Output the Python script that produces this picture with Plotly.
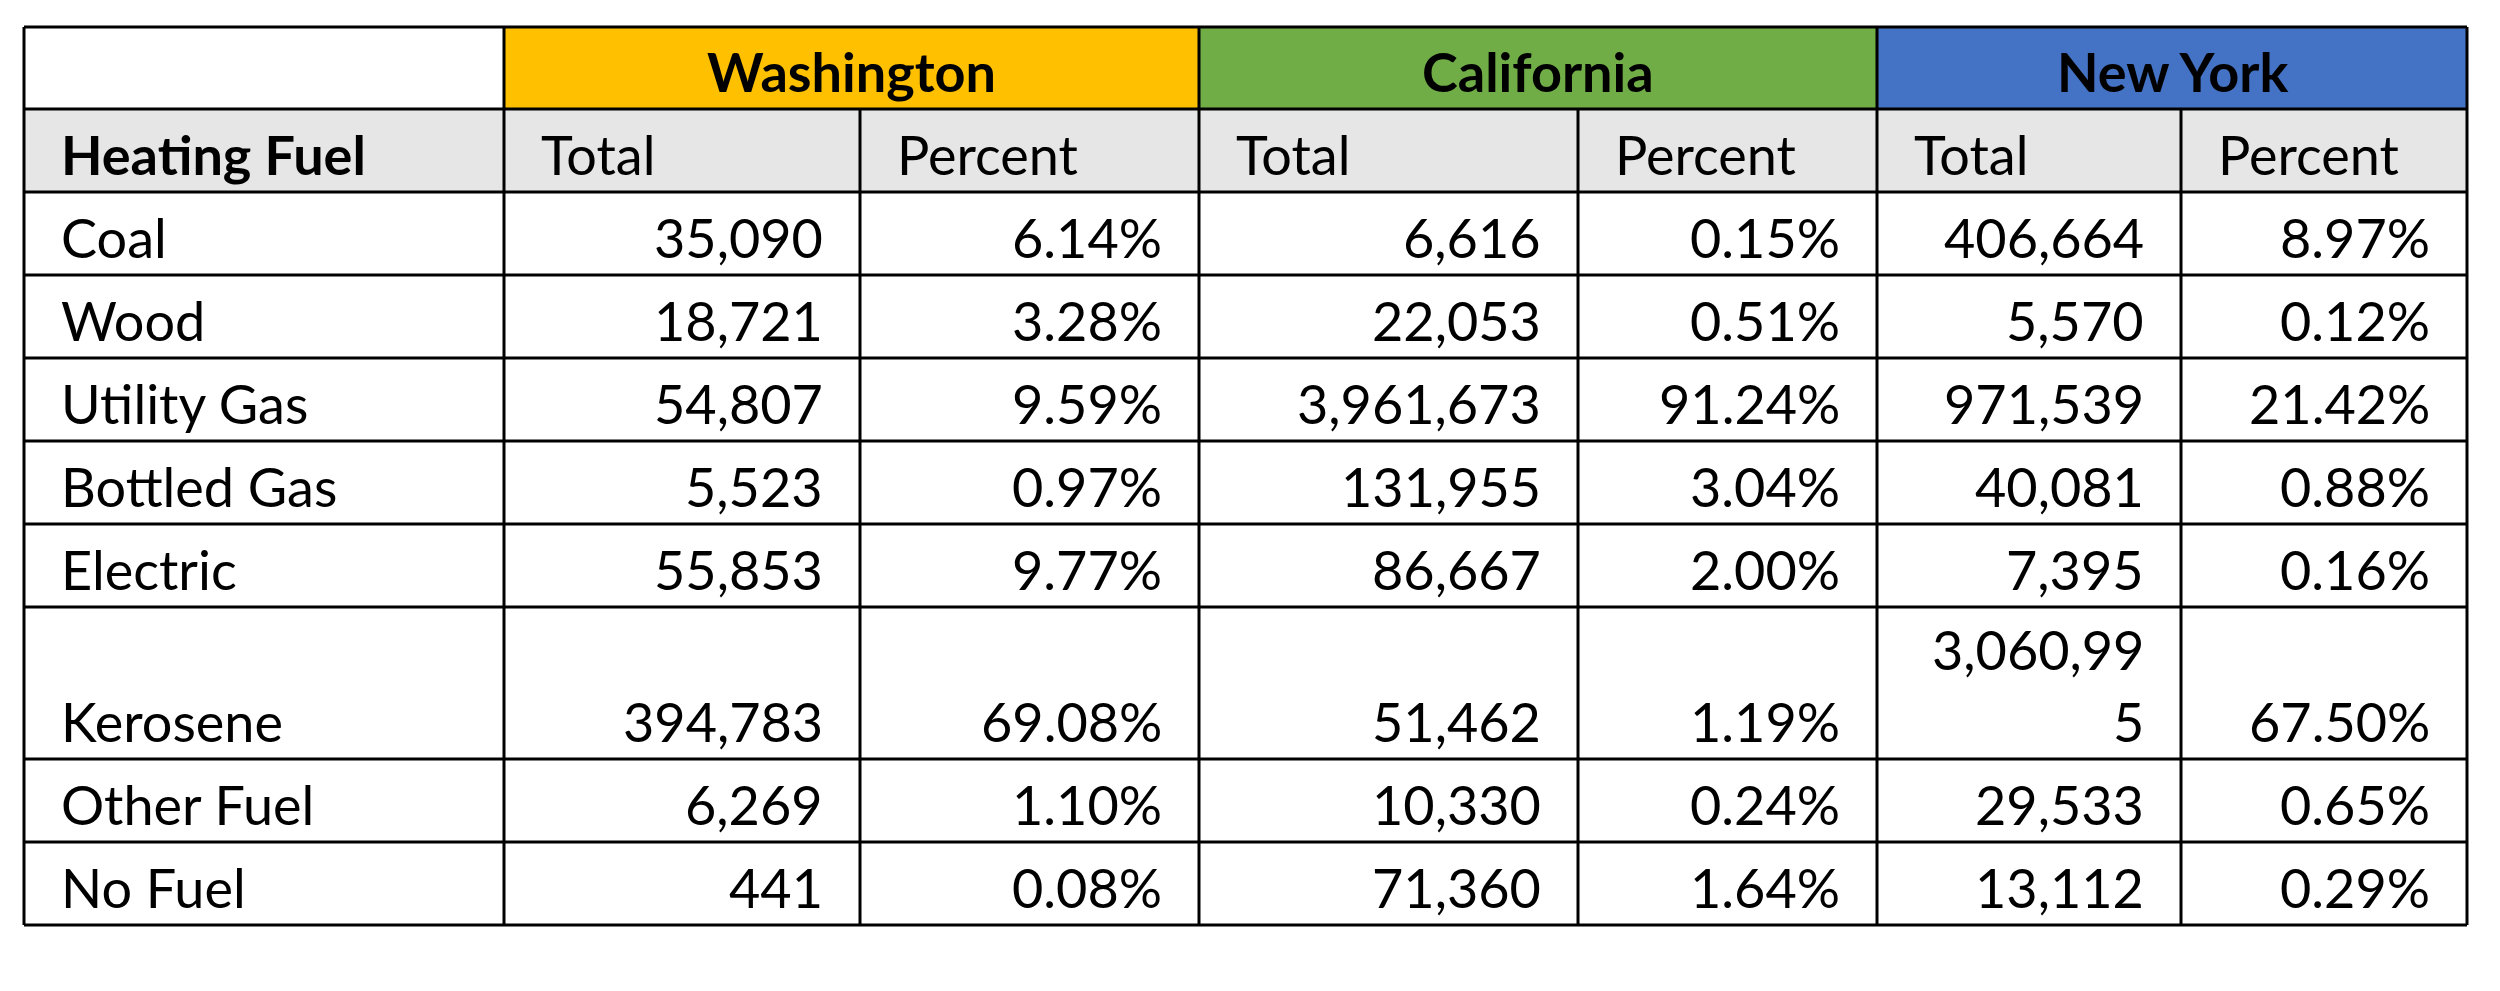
import plotly.graph_objects as go

fuels = ["Coal", "Wood", "Utility Gas", "Bottled Gas", "Electric",
         "Kerosene", "Other Fuel", "No Fuel"]
states = ["Washington", "California", "New York"]
wa_total = [35090, 18721, 54807, 5523, 55853, 394783, 6269, 441]
wa_pct = [6.14, 3.28, 9.59, 0.97, 9.77, 69.08, 1.10, 0.08]
ca_total = [6616, 22053, 3961673, 131955, 86667, 51462, 10330, 71360]
ca_pct = [0.15, 0.51, 91.24, 3.04, 2.00, 1.19, 0.24, 1.64]
ny_total = [406664, 5570, 971539, 40081, 7395, 3060995, 29533, 13112]
ny_pct = [8.97, 0.12, 21.42, 0.88, 0.16, 67.50, 0.65, 0.29]
sub_headers = ["Total", "Percent"]

# layout of the grid (pixels of the 2500x991 picture)
W, H = 2500, 991
body_margin = 8  # default page margin around the plot div
col_x = [24, 504, 860, 1199, 1578, 1877, 2181, 2467]
top = 27
head_h = [82, 83]
row_h = 83
line_h = 72
pad_x = 35
base_off = 3
font = "Lato"
fs = 54
char_w = 28
state_colors = ["#FFC000", "#70AD47", "#4472C4"]
grey = "#E6E6E6"


def fmt_total(v):
    return f"{v:,}"


def fmt_pct(v):
    return f"{v:.2f}%"


def wrap(text, width):
    # crude wrap, the way Excel breaks a long number in a narrow column
    n = max(1, int((width - 2 * pad_x) // char_w))
    return [text[i:i + n] for i in range(0, len(text), n)]


columns = [wa_total, wa_pct, ca_total, ca_pct, ny_total, ny_pct]
formats = [fmt_total, fmt_pct] * 3

# build cell texts and row heights
body = []
for r, fuel in enumerate(fuels):
    cells = []
    for c, vals in enumerate(columns):
        w = col_x[c + 2] - col_x[c + 1]
        cells.append(wrap(formats[c](vals[r]), w))
    nlines = max(len(t) for t in cells)
    body.append((fuel, cells, row_h + (nlines - 1) * (line_h - 3)))

row_y = [top, top + head_h[0], top + head_h[0] + head_h[1]]
for _, _, h in body:
    row_y.append(row_y[-1] + h)

shapes = []
annotations = []


def rect(x0, y0, x1, y1, color):
    shapes.append(dict(type="rect", xref="x", yref="y", x0=x0, x1=x1, y0=y0, y1=y1,
                       fillcolor=color, line=dict(width=0), layer="below"))


def hline(x0, x1, y):
    shapes.append(dict(type="line", xref="x", yref="y", x0=x0, x1=x1, y0=y, y1=y,
                       line=dict(color="black", width=3)))


def vline(x, y0, y1):
    shapes.append(dict(type="line", xref="x", yref="y", x0=x, x1=x, y0=y0, y1=y1,
                       line=dict(color="black", width=3)))


def text(s, x, y, align, bold=False):
    annotations.append(dict(
        x=x, y=y, xref="x", yref="y", text=f"<b>{s}</b>" if bold else s,
        showarrow=False, xanchor=align, yanchor="bottom",
        font=dict(family=font, size=fs, color="black"),
    ))


# header row 1: state names over merged cells
for i, st in enumerate(states):
    x0, x1 = col_x[1 + 2 * i], col_x[3 + 2 * i]
    rect(x0, row_y[0], x1, row_y[1], state_colors[i])
    text(st, (x0 + x1) / 2, row_y[1] - base_off, "center", bold=True)

# header row 2: grey band
rect(col_x[0], row_y[1], col_x[-1], row_y[2], grey)
text("Heating Fuel", col_x[0] + pad_x, row_y[2] - base_off, "left", bold=True)
for c in range(6):
    text(sub_headers[c % 2], col_x[c + 1] + pad_x, row_y[2] - base_off, "left")

# body rows
for r, (fuel, cells, h) in enumerate(body):
    y_bot = row_y[r + 3] - base_off
    text(fuel, col_x[0] + pad_x, y_bot, "left")
    for c, lines in enumerate(cells):
        for k, ln in enumerate(reversed(lines)):
            text(ln, col_x[c + 2] - pad_x, y_bot - k * line_h, "right")

# grid lines
for y in row_y:
    hline(col_x[0], col_x[-1], y)
for i, x in enumerate(col_x):
    # state dividers run the full height, total/percent dividers start at row 2
    y0 = row_y[0] if i in (0, 1, 3, 5, 7) else row_y[1]
    vline(x, y0, row_y[-1])

fig = go.Figure()
fig.update_layout(
    width=W - body_margin,
    height=H - body_margin,
    margin=dict(l=0, r=0, t=0, b=0),
    plot_bgcolor="white",
    paper_bgcolor="white",
    showlegend=False,
    shapes=shapes,
    annotations=annotations,
)
fig.update_xaxes(range=[body_margin, W], visible=False, fixedrange=True)
fig.update_yaxes(range=[H, body_margin], visible=False, fixedrange=True)
fig.write_html("out.html")
